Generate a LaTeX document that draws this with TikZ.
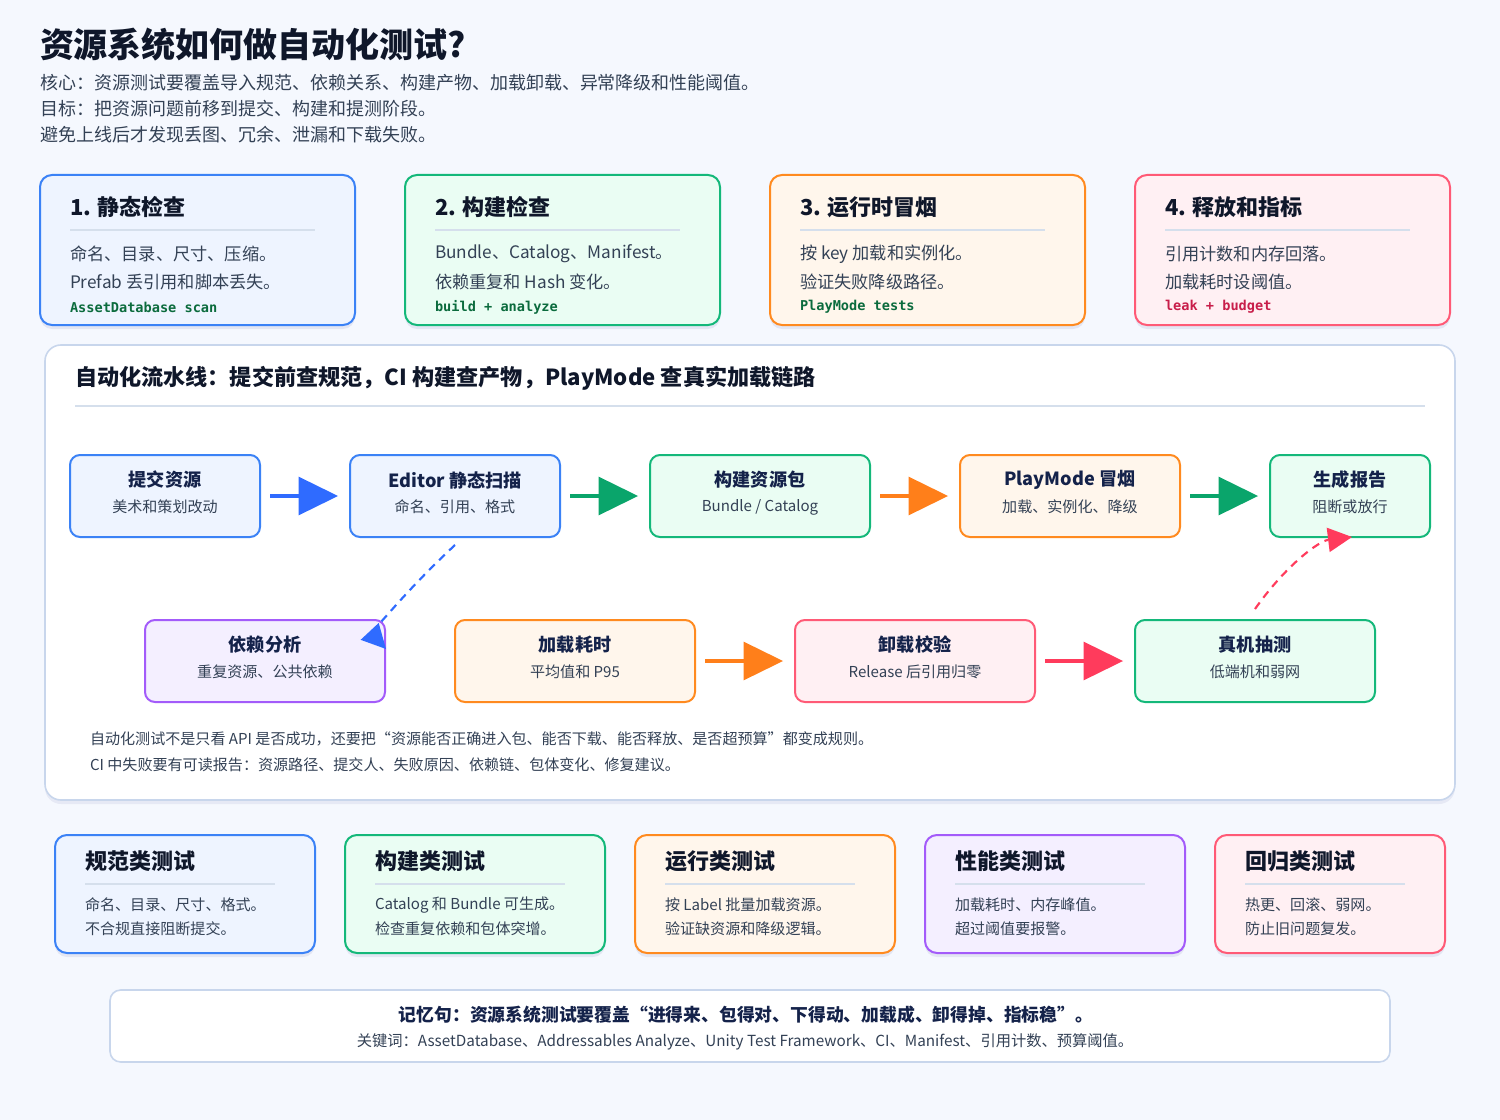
\documentclass[tikz,border=0pt]{standalone}
\usepackage{fontspec}
\setmainfont{Noto Sans CJK SC}
\newfontfamily\codefont{DejaVu Sans Mono}
\usetikzlibrary{arrows.meta,calc,shadows}
\definecolor{bg}{HTML}{F5F8FE}
\definecolor{ink}{HTML}{0F172A}
\definecolor{navy}{HTML}{14224A}
\definecolor{body}{HTML}{334155}
\definecolor{sep}{HTML}{D5DFEC}
\definecolor{panelB}{HTML}{C8D6EC}
\definecolor{blueB}{HTML}{3B82F6}
\definecolor{blueF}{HTML}{EEF4FF}
\definecolor{greenB}{HTML}{14B87A}
\definecolor{greenF}{HTML}{EAFDF3}
\definecolor{orangeB}{HTML}{FF8A1F}
\definecolor{orangeF}{HTML}{FFF6EC}
\definecolor{redB}{HTML}{FF5A76}
\definecolor{redF}{HTML}{FFF0F3}
\definecolor{purpleB}{HTML}{A35BFA}
\definecolor{purpleF}{HTML}{F4EFFF}
\definecolor{blueA}{HTML}{2F6BFF}
\definecolor{greenA}{HTML}{0AA56B}
\definecolor{orangeA}{HTML}{FF7F1A}
\definecolor{redA}{HTML}{FF3B5C}
\definecolor{codeG}{HTML}{0B6B3D}
\definecolor{codeR}{HTML}{C81E4A}
\tikzset{
  every node/.style={inner sep=0pt, outer sep=0pt},
  cardbox/.style={line width=1.5pt, rounded corners=9pt,
    drop shadow={opacity=0.07, shadow xshift=0pt, shadow yshift=-3pt, fill=blue!40!black}},
  cardtitle/.style={anchor=west, text=ink, font=\bfseries\fontsize{16.5pt}{20pt}\selectfont},
  cardtext/.style={anchor=west, text=body, font=\fontsize{12.9pt}{16pt}\selectfont},
  cardtextsm/.style={anchor=west, text=body, font=\fontsize{11.3pt}{14pt}\selectfont},
  codetext/.style={anchor=west, font=\codefont\bfseries\fontsize{10.2pt}{12pt}\selectfont},
  sepline/.style={draw=sep, line width=1.5pt},
  pbox/.style={line width=1.5pt, rounded corners=7.5pt, minimum height=61.5pt},
  ptitle/.style={text=navy, font=\bfseries\fontsize{13.6pt}{16pt}\selectfont},
  psub/.style={text=body, font=\fontsize{11.3pt}{14pt}\selectfont},
  parrow/.style={line width=3.4pt, -{Triangle[length=29.5pt,width=29pt,line width=0pt]}},
  darrow/.style={line width=1.6pt, dash pattern=on 6pt off 4.5pt, -{Triangle[length=18pt,width=18.5pt,line width=0pt]}},
  note/.style={anchor=west, text=body, font=\fontsize{11.3pt}{14pt}\selectfont},
}
\newcommand\topcard[8]{%
  \node[cardbox, draw=#3B, fill=#3F, minimum width=236.25pt, minimum height=112.5pt] (#1) at (#2+157.5,250) {};
  \node[cardtitle] (#1-t) at (#2+30,207) {#4};
  \draw[sepline] (#2+30,230) -- (#2+275,230);
  \node[cardtext] (#1-a) at (#2+30,254) {#5};
  \node[cardtext] (#1-b) at (#2+30,282) {#6};
  \node[codetext, text=#8] (#1-c) at (#2+30,307) {#7};
}
\newcommand\botcard[7]{%
  \node[cardbox, draw=#4B, fill=#4F, minimum width={#3*0.75pt}, minimum height=88.5pt] (#1) at ({#2+#3/2},894) {};
  \node[cardtitle] (#1-t) at (#2+30,861) {#5};
  \draw[sepline] (#2+30,884) -- ({#2+#3-40},884);
  \node[cardtextsm] (#1-a) at (#2+30,905) {#6};
  \node[cardtextsm] (#1-b) at (#2+30,929) {#7};
}
\newcommand\pnode[6]{%
  \node[pbox, draw=#4B, fill=#4F, minimum width={#3*0.75pt}] (#1) at (#2) {};
  \node[ptitle] (#1-t) at ($(#1.center)+(0,-16)$) {#5};
  \node[psub] (#1-s) at ($(#1.center)+(0,11)$) {#6};
}
\begin{document}
\begin{tikzpicture}[x=0.75pt,y=-0.75pt]
\fill[bg] (0,0) rectangle (1500,1120);
\useasboundingbox (0,0) rectangle (1500,1120);

% header
\node[anchor=west, text=ink, font=\bfseries\fontsize{25.5pt}{30pt}\selectfont] (title) at (40,45) {资源系统如何做自动化测试?};
\node[anchor=west, text=body, font=\fontsize{13.5pt}{16pt}\selectfont] (sub1) at (40,83) {核心：资源测试要覆盖导入规范、依赖关系、构建产物、加载卸载、异常降级和性能阈值。};
\node[anchor=west, text=body, font=\fontsize{13.5pt}{16pt}\selectfont] (sub2) at (40,109) {目标：把资源问题前移到提交、构建和提测阶段。};
\node[anchor=west, text=body, font=\fontsize{13.5pt}{16pt}\selectfont] (sub3) at (40,135) {避免上线后才发现丢图、冗余、泄漏和下载失败。};

% top cards
\topcard{c1}{40}{blue}{1. 静态检查}{命名、目录、尺寸、压缩。}{Prefab 丢引用和脚本丢失。}{AssetDatabase scan}{codeG}
\topcard{c2}{405}{green}{2. 构建检查}{Bundle、Catalog、Manifest。}{依赖重复和 Hash 变化。}{build + analyze}{codeG}
\topcard{c3}{770}{orange}{3. 运行时冒烟}{按 key 加载和实例化。}{验证失败降级路径。}{PlayMode tests}{codeG}
\topcard{c4}{1135}{red}{4. 释放和指标}{引用计数和内存回落。}{加载耗时设阈值。}{leak + budget}{codeR}

% pipeline panel
\node[draw=panelB, fill=white, line width=1.2pt, rounded corners=12pt, minimum width=1057.5pt, minimum height=341.25pt,
  drop shadow={opacity=0.06, shadow xshift=0pt, shadow yshift=-3pt, fill=blue!40!black}] (panel) at (750,572.5) {};
\node[anchor=west, text=ink, font=\bfseries\fontsize{16.6pt}{20pt}\selectfont] (ptitle) at (75,378) {自动化流水线：提交前查规范，CI 构建查产物，PlayMode 查真实加载链路};
\draw[sepline, line width=1.2pt] (75,406) -- (1425,406);

\pnode{n1}{165,496}{190}{blue}{提交资源}{美术和策划改动}
\pnode{n2}{455,496}{210}{blue}{Editor 静态扫描}{命名、引用、格式}
\pnode{n3}{760,496}{220}{green}{构建资源包}{Bundle / Catalog}
\pnode{n4}{1070,496}{220}{orange}{PlayMode 冒烟}{加载、实例化、降级}
\pnode{n5}{1350,496}{160}{green}{生成报告}{阻断或放行}
\pnode{m1}{265,661}{240}{purple}{依赖分析}{重复资源、公共依赖}
\pnode{m2}{575,661}{240}{orange}{加载耗时}{平均值和 P95}
\pnode{m3}{915,661}{240}{red}{卸载校验}{Release 后引用归零}
\pnode{m4}{1255,661}{240}{green}{真机抽测}{低端机和弱网}

\draw[parrow, blueA] ($(n1.east)+(10,0)$) -- ($(n2.west)+(-12,0)$);
\draw[parrow, greenA] ($(n2.east)+(10,0)$) -- ($(n3.west)+(-12,0)$);
\draw[parrow, orangeA] ($(n3.east)+(10,0)$) -- ($(n4.west)+(-12,0)$);
\draw[parrow, greenA] ($(n4.east)+(10,0)$) -- ($(n5.west)+(-12,0)$);
\draw[parrow, orangeA] ($(m2.east)+(10,0)$) -- ($(m3.west)+(-12,0)$);
\draw[parrow, redA] ($(m3.east)+(10,0)$) -- ($(m4.west)+(-12,0)$);

\draw[darrow, blueA] ($(n2.south)+(0,8)$) .. controls ($(n2.south)+(-59,63)$) and ($(m1.north east)+(-12,15)$) .. ($(m1.north east)+(1,29)$);
\draw[darrow, redA] ($(m4.north)+(0,-11)$) .. controls ($(m4.north)+(31,-55)$) and ($(n5.south)+(-31,4)$) .. ($(n5.south)+(2,0)$);

\node[note] (note1) at (90,739) {自动化测试不是只看 API 是否成功，还要把“资源能否正确进入包、能否下载、能否释放、是否超预算”都变成规则。};
\node[note] (note2) at (90,765) {CI 中失败要有可读报告：资源路径、提交人、失败原因、依赖链、包体变化、修复建议。};

% bottom cards
\botcard{b1}{55}{260}{blue}{规范类测试}{命名、目录、尺寸、格式。}{不合规直接阻断提交。}
\botcard{b2}{345}{260}{green}{构建类测试}{Catalog 和 Bundle 可生成。}{检查重复依赖和包体突增。}
\botcard{b3}{635}{260}{orange}{运行类测试}{按 Label 批量加载资源。}{验证缺资源和降级逻辑。}
\botcard{b4}{925}{260}{purple}{性能类测试}{加载耗时、内存峰值。}{超过阈值要报警。}
\botcard{b5}{1215}{230}{red}{回归类测试}{热更、回滚、弱网。}{防止旧问题复发。}

% memory box
\node[draw=panelB, fill=white, line width=1.2pt, rounded corners=8pt, minimum width=960pt, minimum height=54pt] (mem) at (750,1026) {};
\node[text=navy, font=\bfseries\fontsize{13.35pt}{16pt}\selectfont] (memt) at (746,1015) {记忆句：资源系统测试要覆盖“进得来、包得对、下得动、加载成、卸得掉、指标稳”。};
\node[text=body, font=\fontsize{11.45pt}{14pt}\selectfont] (mems) at (745,1042) {关键词：AssetDatabase、Addressables Analyze、Unity Test Framework、CI、Manifest、引用计数、预算阈值。};
\end{tikzpicture}
\end{document}
